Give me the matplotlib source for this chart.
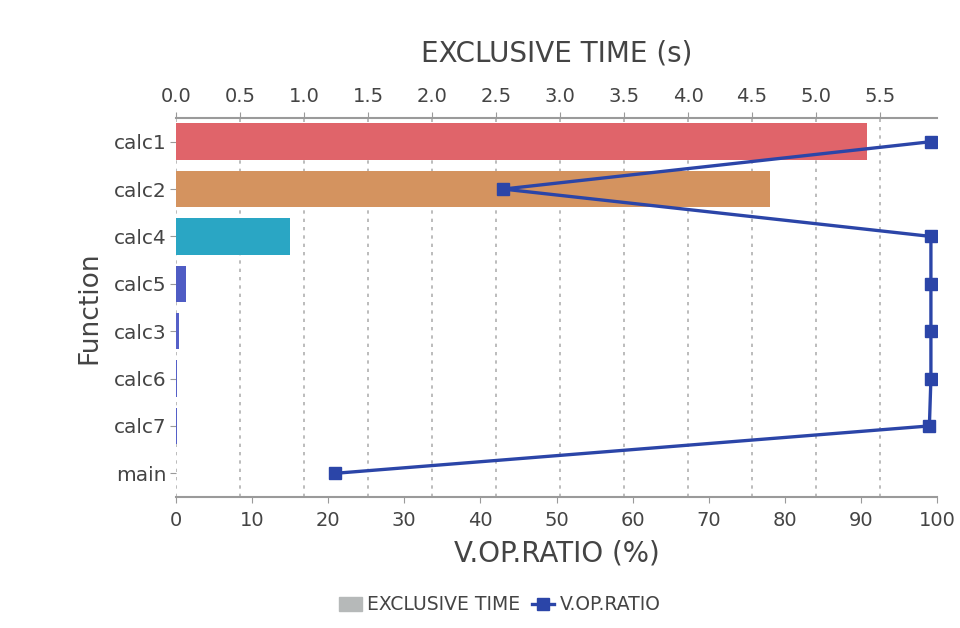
import matplotlib
matplotlib.use("Agg")
import matplotlib.pyplot as plt
from matplotlib.patches import Patch
from matplotlib.lines import Line2D

functions = ["calc1", "calc2", "calc4", "calc5", "calc3", "calc6", "calc7", "main"]
exclusive_time = [5.40, 4.64, 0.89, 0.08, 0.02, 0.01, 0.005, 0.002]
vop_ratio = [99.2, 43.0, 99.2, 99.2, 99.2, 99.2, 99.0, 20.9]
bar_colors = ["#E0646A", "#D4935F", "#2AA6C4", "#4F5CC4", "#5560C8", "#5560C8", "#5560C8", "#5560C8"]
time_ticks = [0.0, 0.5, 1.0, 1.5, 2.0, 2.5, 3.0, 3.5, 4.0, 4.5, 5.0, 5.5]
ratio_ticks = [0, 10, 20, 30, 40, 50, 60, 70, 80, 90, 100]

plt.rcParams['font.family'] = ['DejaVu Sans']
txt = "#444444"
axc = "#9a9a9a"

fig = plt.figure(figsize=(9.6, 6.28), dpi=100)
ax = fig.add_axes([176/960, 1-497/628, (937-176)/960, (497-118)/628])
ax2 = ax.twiny()
pos = list(range(len(functions)))

# bars: exclusive time on the top axis
ax.barh(pos, exclusive_time, height=0.77, color=bar_colors, zorder=2)
ax.set_xlim(0, 5.945)
ax.set_ylim(len(functions)-0.5, -0.5)
ax.set_yticks(pos)
ax.set_yticklabels(functions)
ax.xaxis.tick_top()
ax.xaxis.set_label_position('top')
ax.set_xticks(time_ticks)
ax.set_xticklabels([f"{t:.1f}" for t in time_ticks])
ax.set_xlabel("EXCLUSIVE TIME (s)", fontsize=20, color=txt, labelpad=18)
ax.set_ylabel("Function", fontsize=19, color=txt, labelpad=8)
ax.grid(axis='x', linestyle=(0, (2, 3)), color="#b0b0b0", linewidth=1.2, zorder=0)
ax.set_axisbelow(True)
ax.tick_params(axis='x', colors=axc, labelcolor=txt, labelsize=14, length=4, pad=5)
ax.tick_params(axis='y', colors=axc, labelcolor=txt, labelsize=14.5, length=4, pad=3)
for s in ['left', 'right', 'bottom']:
    ax.spines[s].set_visible(False)
ax.spines['top'].set_color(axc)
ax.spines['top'].set_linewidth(1.5)

# line: V.OP.RATIO on the bottom axis
ax2.plot(vop_ratio, pos, color="#2B45A8", linewidth=2.4, marker='s', markersize=8.5, zorder=3)
ax2.set_xlim(0, 100)
ax2.xaxis.tick_bottom()
ax2.xaxis.set_label_position('bottom')
ax2.set_xticks(ratio_ticks)
ax2.set_xlabel("V.OP.RATIO (%)", fontsize=20, color=txt, labelpad=7)
ax2.tick_params(axis='x', colors=axc, labelcolor=txt, labelsize=14, length=4, pad=6)
for s in ['left', 'right', 'top']:
    ax2.spines[s].set_visible(False)
ax2.spines['bottom'].set_color(axc)
ax2.spines['bottom'].set_linewidth(1.5)

handles = [Patch(color="#B6B9B9", label="EXCLUSIVE TIME"),
           Line2D([0], [0], color="#2B45A8", linewidth=2.4, marker='s', markersize=8, label="V.OP.RATIO")]
leg = fig.legend(handles=handles, loc='center', bbox_to_anchor=(500/960, 1-605/628), ncol=2,
                 frameon=False, fontsize=13.5, handlelength=1.2, handletextpad=0.3, columnspacing=0.6,
                 handleheight=0.8)
for t in leg.get_texts():
    t.set_color(txt)

fig.savefig("out.png", dpi=100)
